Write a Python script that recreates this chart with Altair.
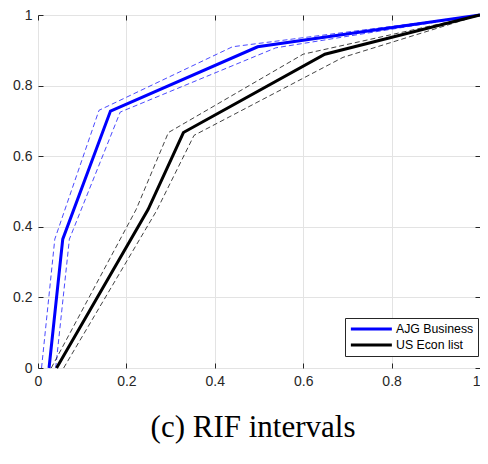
import altair as alt
import pandas as pd

series_names = ["AJG Business", "US Econ list"]

# AJG Business: main curve and its two dashed interval bounds
ajg_x = [0.025, 0.056, 0.164, 0.497, 1.0]
ajg_y = [0.0, 0.365, 0.728, 0.910, 1.0]
ajg_up_x = [0.008, 0.038, 0.138, 0.440, 1.0]
ajg_up_y = [0.0, 0.365, 0.730, 0.910, 1.0]
ajg_lo_x = [0.040, 0.071, 0.186, 0.538, 1.0]
ajg_lo_y = [0.0, 0.365, 0.725, 0.907, 1.0]

# US Econ list: main curve and its two dashed interval bounds
us_x = [0.042, 0.249, 0.329, 0.649, 1.0]
us_y = [0.0, 0.449, 0.667, 0.889, 1.0]
us_up_x = [0.030, 0.222, 0.295, 0.600, 1.0]
us_up_y = [0.0, 0.449, 0.667, 0.889, 1.0]
us_lo_x = [0.058, 0.268, 0.353, 0.690, 1.0]
us_lo_y = [0.0, 0.445, 0.659, 0.880, 1.0]

tick_values = [0, 0.2, 0.4, 0.6, 0.8, 1.0]


def frame(xs, ys, name):
    return pd.DataFrame({"x": xs, "y": ys, "series": name, "i": list(range(len(xs)))})


main_df = pd.concat([frame(ajg_x, ajg_y, series_names[0]), frame(us_x, us_y, series_names[1])])

xscale = alt.Scale(domain=[0, 1], nice=False, zero=False)
yscale = alt.Scale(domain=[0, 1], nice=False, zero=False)

axis_common = dict(
    values=tick_values,
    format="~g",
    offset=-5,
    tickSize=5,
    domain=False,
    grid=True,
    gridColor="#e3e3e3",
    gridWidth=1,
    labelFlush=False,
    labelPadding=6,
    labelFont="Liberation Sans",
    labelFontSize=14,
    labelColor="#262626",
    tickColor="#262626",
    title=None,
)

main = alt.Chart(main_df).mark_line(strokeWidth=3).encode(
    x=alt.X(
        "x:Q",
        scale=xscale,
        axis=alt.Axis(
            orient="bottom",
            labelAlign=alt.ExprRef("datum.value >= 1 ? 'right' : 'center'"),
            **axis_common,
        ),
    ),
    y=alt.Y("y:Q", scale=yscale, axis=alt.Axis(orient="left", **axis_common)),
    color=alt.Color(
        "series:N",
        scale=alt.Scale(domain=series_names, range=["#0000ff", "#000000"]),
        legend=alt.Legend(
            title=None,
            orient="none",
            legendX=307,
            legendY=303,
            symbolType="M-1,0H7",
            symbolSize=105,
            symbolStrokeWidth=3,
            labelOffset=33,
            labelFont="Liberation Sans",
            labelFontSize=12.3,
            labelColor="#000000",
            padding=4,
            rowPadding=2,
            strokeColor="#262626",
            fillColor="white",
        ),
    ),
    order="i:Q",
)

dashed_specs = [
    (ajg_up_x, ajg_up_y, series_names[0], "#2a2aff"),
    (ajg_lo_x, ajg_lo_y, series_names[0], "#2a2aff"),
    (us_up_x, us_up_y, series_names[1], "#222222"),
    (us_lo_x, us_lo_y, series_names[1], "#222222"),
]

dashed_layers = []
for xs, ys, name, col in dashed_specs:
    dashed_layers.append(
        alt.Chart(frame(xs, ys, name)).mark_line(strokeWidth=1, strokeDash=[5, 3], opacity=0.85).encode(
            x=alt.X("x:Q", scale=xscale, axis=None),
            y=alt.Y("y:Q", scale=yscale, axis=None),
            color=alt.value(col),
            order="i:Q",
        )
    )

tick_axis = dict(
    values=tick_values,
    offset=-5,
    tickSize=5,
    domain=False,
    grid=False,
    labels=False,
    tickColor="#262626",
    title=None,
)

frame_ticks = alt.Chart(main_df).mark_point(opacity=0).encode(
    x=alt.X("x:Q", scale=xscale, axis=alt.Axis(orient="top", **tick_axis)),
    y=alt.Y("y:Q", scale=yscale, axis=alt.Axis(orient="right", **tick_axis)),
)

chart = (
    alt.layer(*dashed_layers, main, frame_ticks)
    .resolve_axis(x="independent", y="independent")
    .properties(
        width=442,
        height=353,
        autosize=alt.AutoSizeParams(type="none"),
        padding={"left": 30, "top": 7, "right": 0, "bottom": 82},
        title=alt.Title(
            "(c) RIF intervals",
            orient="bottom",
            anchor="middle",
            font="Liberation Serif",
            fontSize=31,
            fontWeight="normal",
            color="#000000",
            offset=25,
            dx=-6,
        ),
    )
    .configure_view(stroke="#262626", strokeWidth=1)
    .configure(background="white")
)

chart.save("out.html", embed_options={"renderer": "svg", "actions": False})
